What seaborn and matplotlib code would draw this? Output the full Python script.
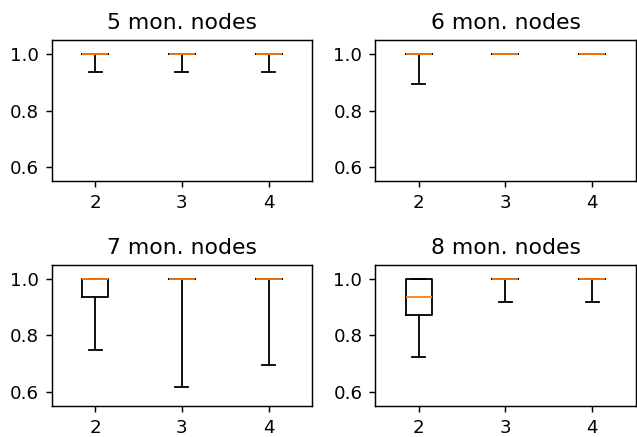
import matplotlib
matplotlib.use("Agg")
import matplotlib.pyplot as plt
import pandas as pd
import seaborn as sns

# number of monitoring nodes per panel, x categories
panels = [5, 6, 7, 8]
groups = ["2", "3", "4"]

# five-number summaries per group: low whisker, q1, median, q3, high whisker
stats_5 = [[0.9375, 1.0, 1.0, 1.0, 1.0],
           [0.9375, 1.0, 1.0, 1.0, 1.0],
           [0.9375, 1.0, 1.0, 1.0, 1.0]]
stats_6 = [[0.896, 1.0, 1.0, 1.0, 1.0],
           [1.0, 1.0, 1.0, 1.0, 1.0],
           [1.0, 1.0, 1.0, 1.0, 1.0]]
stats_7 = [[0.748, 0.934, 1.0, 1.0, 1.0],
           [0.616, 1.0, 1.0, 1.0, 1.0],
           [0.696, 1.0, 1.0, 1.0, 1.0]]
stats_8 = [[0.722, 0.873, 0.934, 1.0, 1.0],
           [0.916, 1.0, 1.0, 1.0, 1.0],
           [0.916, 1.0, 1.0, 1.0, 1.0]]
all_stats = [stats_5, stats_6, stats_7, stats_8]


def to_frame(stats):
    rows = []
    for g, vals in zip(groups, stats):
        for v in vals:
            rows.append({"k": g, "acc": v})
    return pd.DataFrame(rows)


dpi = 131
fig, axes = plt.subplots(2, 2, figsize=(637 / dpi, 437 / dpi), dpi=dpi)
fig.subplots_adjust(left=0.081, right=0.998, top=0.9085, bottom=0.071,
                    wspace=0.242, hspace=0.589)

for ax, n, stats in zip(axes.flat, panels, all_stats):
    df = to_frame(stats)
    # with 5 points the quartiles fall exactly on the summary values
    sns.boxplot(data=df, x="k", y="acc", order=groups, whis=(0, 100),
                width=0.3, fill=False, color="black", linewidth=1,
                medianprops={"color": "C1"}, ax=ax)
    ax.set_title(f"{n} mon. nodes")
    ax.set_xlabel("")
    ax.set_ylabel("")
    ax.set_ylim(0.55, 1.05)
    ax.set_yticks([0.6, 0.8, 1.0])
    ax.set_xlim(-0.5, 2.5)

fig.savefig("out.png", dpi=dpi)
